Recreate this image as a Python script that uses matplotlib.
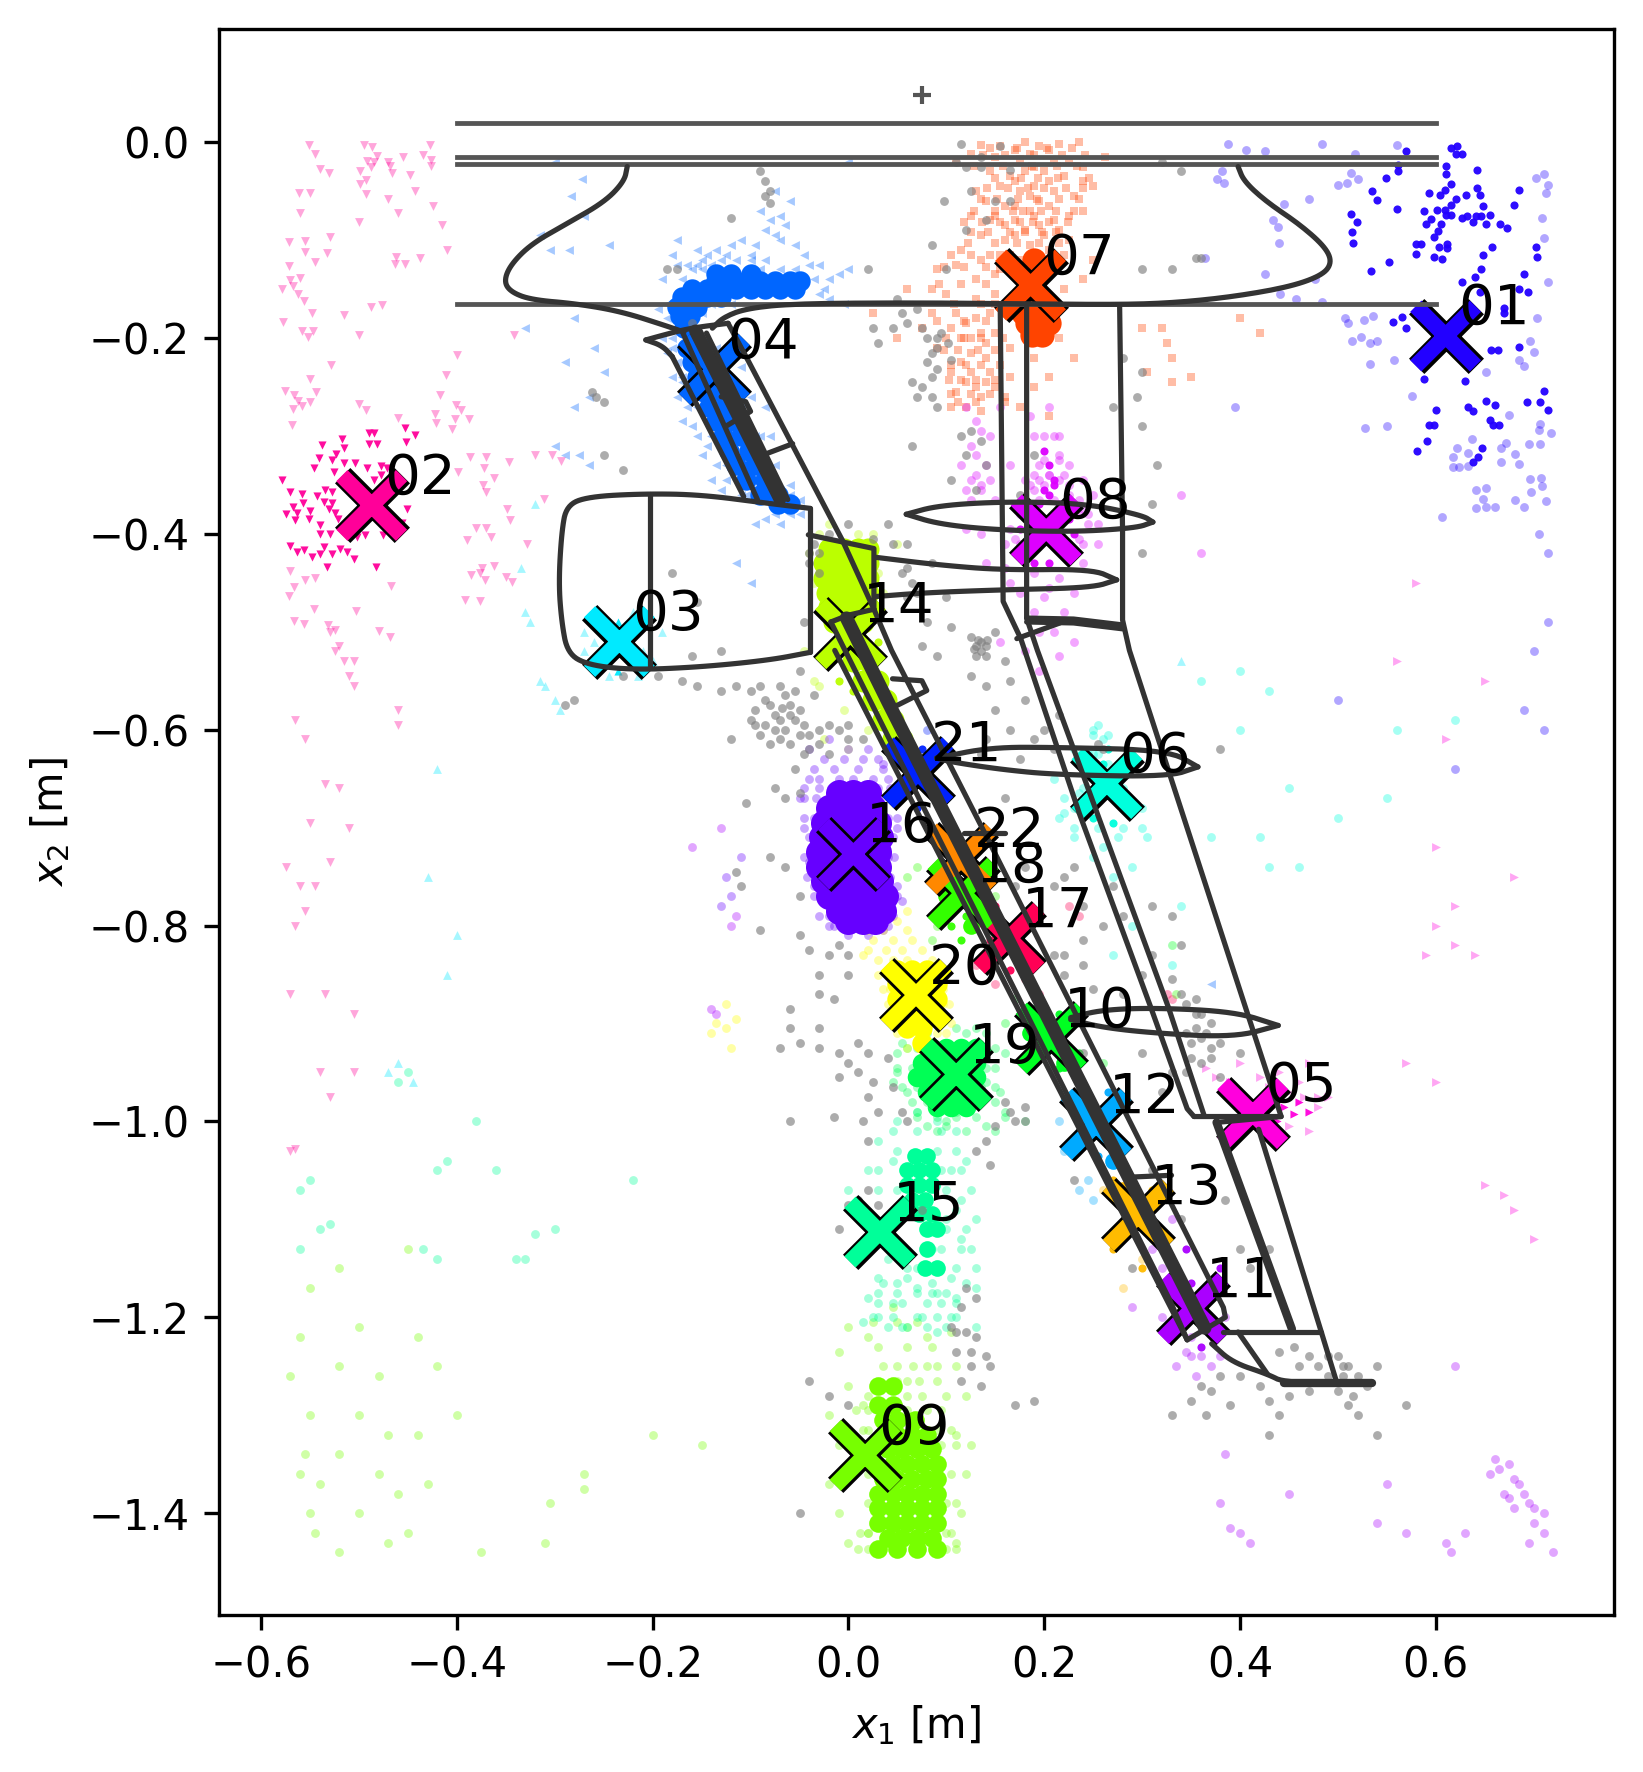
import matplotlib
matplotlib.use("Agg")
import matplotlib.pyplot as plt

labels = ["01","02","03","04","05","06","07","08","09","10","11","12","13","14","15","16","17","18","19","20","21","22"]
center_x = [0.610,-0.487,-0.234,-0.137,0.413,0.264,0.186,0.202,0.017,0.207,0.352,0.253,0.296,0.002,0.032,0.005,0.164,0.117,0.110,0.069,0.071,0.115]
center_y = [-0.198,-0.371,-0.510,-0.232,-0.992,-0.655,-0.146,-0.396,-1.341,-0.915,-1.191,-1.003,-1.096,-0.502,-1.113,-0.727,-0.813,-0.767,-0.952,-0.871,-0.644,-0.732]
colors = ["#2200ff","#ff0099","#00eaff","#0066ff","#ff00dd","#00ffdd","#ff4400","#dd00ff","#77ff00","#00ff22","#aa00ff","#00aaff","#ffbb00","#bbff00","#00ff99","#6600ff","#ff0055","#33ff00","#00ff55","#ffff00","#0022ff","#ff8800"]
shapes = ["o","v","^","<",">","o","s","o","o","o","o","o","o","o","o","o","o","o","o","o","o","o"]

solid = {
"01":[(0.622,-0.004),(0.615,-0.006),(0.621,-0.012),(0.627,-0.012),(0.570,-0.009),(0.610,-0.024),(0.610,-0.033),(0.561,-0.023),(0.561,-0.030),(0.549,-0.037),(0.642,-0.028),(0.615,-0.043),(0.609,-0.049),(0.685,-0.049),(0.642,-0.047),(0.645,-0.054),(0.593,-0.052),(0.604,-0.054),(0.631,-0.054),(0.621,-0.058),(0.615,-0.064),(0.535,-0.050),(0.540,-0.059),(0.560,-0.068),(0.648,-0.065),(0.680,-0.064),(0.588,-0.070),(0.601,-0.069),(0.609,-0.069),(0.610,-0.074),(0.615,-0.074),(0.627,-0.078),(0.632,-0.075),(0.641,-0.075),(0.646,-0.075),(0.655,-0.074),(0.638,-0.082),(0.651,-0.084),(0.666,-0.084),(0.673,-0.088),(0.590,-0.084),(0.595,-0.079),(0.605,-0.084),(0.602,-0.091),(0.598,-0.097),(0.513,-0.073),(0.519,-0.082),(0.514,-0.092),(0.515,-0.103),(0.580,-0.104),(0.585,-0.104),(0.580,-0.114),(0.603,-0.107),(0.611,-0.104),(0.611,-0.108),(0.598,-0.117),(0.606,-0.119),(0.648,-0.115),(0.657,-0.107),(0.702,-0.107),(0.703,-0.117),(0.552,-0.122),(0.534,-0.132),(0.646,-0.130),(0.640,-0.138),(0.627,-0.143),(0.690,-0.135),(0.685,-0.150),(0.694,-0.153),(0.645,-0.153),(0.670,-0.169),(0.670,-0.174),(0.565,-0.179),(0.556,-0.184),(0.570,-0.190),(0.656,-0.212),(0.663,-0.212),(0.685,-0.209),(0.588,-0.242),(0.630,-0.244),(0.710,-0.254),(0.651,-0.264),(0.660,-0.268),(0.693,-0.265),(0.706,-0.265),(0.715,-0.274),(0.633,-0.270),(0.638,-0.275),(0.600,-0.274),(0.655,-0.284),(0.658,-0.289),(0.665,-0.289),(0.598,-0.289),(0.593,-0.289),(0.591,-0.305),(0.581,-0.315),(0.647,-0.312),(0.643,-0.322),(0.638,-0.327)],
"02":[(-0.579,-0.345),(-0.570,-0.357),(-0.558,-0.359),(-0.546,-0.333),(-0.541,-0.323),(-0.538,-0.309),(-0.517,-0.303),(-0.515,-0.312),(-0.523,-0.318),(-0.528,-0.325),(-0.515,-0.328),(-0.504,-0.328),(-0.492,-0.333),(-0.490,-0.297),(-0.485,-0.297),(-0.490,-0.308),(-0.482,-0.308),(-0.478,-0.331),(-0.471,-0.333),(-0.526,-0.337),(-0.485,-0.345),(-0.543,-0.361),(-0.536,-0.367),(-0.528,-0.357),(-0.557,-0.369),(-0.528,-0.369),(-0.567,-0.373),(-0.575,-0.380),(-0.563,-0.379),(-0.550,-0.377),(-0.551,-0.385),(-0.565,-0.386),(-0.524,-0.379),(-0.521,-0.385),(-0.540,-0.391),(-0.540,-0.400),(-0.530,-0.400),(-0.502,-0.403),(-0.494,-0.401),(-0.475,-0.401),(-0.570,-0.412),(-0.563,-0.419),(-0.556,-0.417),(-0.548,-0.424),(-0.540,-0.421),(-0.536,-0.413),(-0.528,-0.421),(-0.519,-0.415),(-0.512,-0.419),(-0.505,-0.426),(-0.533,-0.434),(-0.483,-0.434),(-0.451,-0.375),(-0.456,-0.389),(-0.453,-0.292),(-0.443,-0.299),(-0.452,-0.306),(-0.535,-0.355),(-0.531,-0.375),(-0.478,-0.340)],
"05":[(0.445,-0.985),(0.455,-0.992),(0.46,-0.98),(0.47,-0.99),(0.438,-1.0)],
"08":[(0.205,-0.33),(0.21,-0.345),(0.195,-0.37),(0.205,-0.36),(0.215,-0.37),(0.19,-0.385),(0.225,-0.385),(0.18,-0.41),(0.225,-0.41),(0.205,-0.43),(0.19,-0.43),(0.20,-0.315),(0.21,-0.35),(0.20,-0.355),(0.23,-0.40),(0.175,-0.395)],
"06":[(0.26,-0.635),(0.265,-0.62),(0.255,-0.67),(0.285,-0.68),(0.25,-0.69),(0.27,-0.695)],
"11":[(0.345,-1.13),(0.335,-1.15),(0.37,-1.17),(0.33,-1.18),(0.38,-1.15),(0.34,-1.21),(0.36,-1.23),(0.33,-1.21),(0.35,-1.165),(0.378,-1.21)],
"14":[(-0.02,-0.44),(-0.005,-0.43),(0.01,-0.45),(-0.02,-0.47),(0.0,-0.47),(0.015,-0.48),(-0.015,-0.51),(0.0,-0.53),(0.03,-0.51),(-0.01,-0.55),(0.005,-0.56),(0.02,-0.56)],
"18":[(0.085,-0.755),(0.10,-0.78),(0.105,-0.80),(0.12,-0.79),(0.135,-0.76),(0.115,-0.815)],
"21":[(0.06,-0.605),(0.075,-0.62),(0.045,-0.63),(0.07,-0.68),(0.055,-0.655),(0.09,-0.665)],
"22":[(0.10,-0.71),(0.13,-0.72),(0.09,-0.75),(0.14,-0.745),(0.115,-0.76)],
"17":[(0.15,-0.78),(0.18,-0.79),(0.145,-0.815),(0.19,-0.835),(0.165,-0.845)],
"10":[(0.19,-0.885),(0.215,-0.89),(0.19,-0.94),(0.235,-0.93),(0.215,-0.945)],
"12":[(0.235,-0.97),(0.265,-0.97),(0.23,-1.02),(0.275,-1.02),(0.255,-1.035)],
"13":[(0.27,-1.06),(0.31,-1.07),(0.27,-1.13),(0.325,-1.12),(0.30,-1.15)],
"03":[(-0.25,-0.50),(-0.235,-0.49),(-0.22,-0.50),(-0.245,-0.525),(-0.225,-0.525),(-0.235,-0.54)],
}

faint = {
"01":[(0.388,-0.002),(0.406,-0.008),(0.425,-0.009),(0.484,-0.002),(0.517,-0.012),(0.560,-0.003),(0.513,-0.032),(0.521,-0.038),(0.500,-0.044),(0.509,-0.042),(0.384,-0.042),(0.376,-0.038),(0.382,-0.030),(0.445,-0.063),(0.470,-0.058),(0.434,-0.080),(0.439,-0.087),(0.440,-0.103),(0.364,-0.118),(0.425,-0.135),(0.477,-0.140),(0.441,-0.155),(0.457,-0.160),(0.484,-0.163),(0.710,-0.033),(0.702,-0.037),(0.715,-0.044),(0.713,-0.052),(0.708,-0.077),(0.710,-0.098),(0.715,-0.143),(0.703,-0.180),(0.696,-0.203),(0.700,-0.214),(0.685,-0.222),(0.690,-0.229),(0.651,-0.235),(0.507,-0.180),(0.510,-0.185),(0.527,-0.182),(0.536,-0.178),(0.514,-0.203),(0.524,-0.199),(0.533,-0.205),(0.540,-0.203),(0.557,-0.222),(0.533,-0.227),(0.576,-0.259),(0.395,-0.270),(0.528,-0.292),(0.675,-0.279),(0.706,-0.288),(0.718,-0.297),(0.705,-0.294),(0.706,-0.308),(0.695,-0.308),(0.672,-0.307),(0.667,-0.312),(0.637,-0.303),(0.622,-0.312),(0.633,-0.317),(0.618,-0.322),(0.618,-0.332),(0.624,-0.332),(0.633,-0.331),(0.681,-0.318),(0.685,-0.329),(0.667,-0.327),(0.696,-0.344),(0.707,-0.343),(0.708,-0.351),(0.697,-0.357),(0.641,-0.355),(0.651,-0.353),(0.648,-0.364),(0.681,-0.365),(0.713,-0.366),(0.641,-0.374),(0.651,-0.373),(0.660,-0.373),(0.690,-0.373),(0.606,-0.383),(0.705,-0.40),(0.715,-0.42),(0.70,-0.52),(0.715,-0.49),(0.71,-0.60),(0.69,-0.58),(0.55,-0.29),(0.50,-0.57),(0.62,-0.64)],
"02":[(-0.551,-0.003),(-0.545,-0.012),(-0.540,-0.027),(-0.531,-0.032),(-0.495,-0.003),(-0.487,-0.005),(-0.482,-0.014),(-0.492,-0.019),(-0.485,-0.020),(-0.488,-0.025),(-0.470,-0.020),(-0.466,-0.032),(-0.468,-0.024),(-0.455,-0.015),(-0.435,-0.013),(-0.427,-0.003),(-0.426,-0.018),(-0.426,-0.024),(-0.499,-0.030),(-0.493,-0.039),(-0.499,-0.043),(-0.493,-0.053),(-0.470,-0.058),(-0.448,-0.034),(-0.443,-0.050),(-0.424,-0.065),(-0.460,-0.072),(-0.415,-0.085),(-0.561,-0.052),(-0.550,-0.052),(-0.560,-0.072),(-0.500,-0.082),(-0.572,-0.102),(-0.555,-0.101),(-0.555,-0.112),(-0.530,-0.097),(-0.533,-0.113),(-0.545,-0.122),(-0.572,-0.126),(-0.410,-0.110),(-0.438,-0.118),(-0.462,-0.117),(-0.463,-0.124),(-0.453,-0.124),(-0.570,-0.141),(-0.560,-0.139),(-0.567,-0.147),(-0.579,-0.150),(-0.562,-0.155),(-0.556,-0.162),(-0.548,-0.174),(-0.578,-0.184),(-0.558,-0.193),(-0.552,-0.199),(-0.547,-0.193),(-0.515,-0.177),(-0.500,-0.197),(-0.488,-0.168),(-0.476,-0.166),(-0.342,-0.197),(-0.400,-0.217),(-0.529,-0.228),(-0.411,-0.238),(-0.550,-0.242),(-0.576,-0.254),(-0.566,-0.258),(-0.562,-0.264),(-0.544,-0.255),(-0.550,-0.265),(-0.558,-0.269),(-0.567,-0.273),(-0.568,-0.289),(-0.500,-0.267),(-0.493,-0.274),(-0.460,-0.282),(-0.417,-0.258),(-0.422,-0.278),(-0.421,-0.287),(-0.401,-0.268),(-0.396,-0.274),(-0.402,-0.283),(-0.388,-0.283),(-0.405,-0.293),(-0.387,-0.322),(-0.370,-0.322),(-0.372,-0.333),(-0.399,-0.337),(-0.347,-0.327),(-0.362,-0.343),(-0.373,-0.350),(-0.370,-0.357),(-0.320,-0.320),(-0.303,-0.320),(-0.294,-0.326),(-0.311,-0.364),(-0.349,-0.375),(-0.346,-0.386),(-0.380,-0.394),(-0.370,-0.394),(-0.365,-0.403),(-0.390,-0.406),(-0.328,-0.410),(-0.374,-0.435),(-0.386,-0.442),(-0.376,-0.440),(-0.362,-0.433),(-0.350,-0.444),(-0.344,-0.449),(-0.371,-0.447),(-0.392,-0.468),(-0.376,-0.469),(-0.467,-0.453),(-0.572,-0.463),(-0.566,-0.454),(-0.555,-0.447),(-0.545,-0.445),(-0.570,-0.438),(-0.546,-0.477),(-0.503,-0.479),(-0.566,-0.489),(-0.556,-0.492),(-0.532,-0.493),(-0.524,-0.498),(-0.480,-0.499),(-0.468,-0.505),(-0.53,-0.50),(-0.52,-0.515),(-0.515,-0.53),(-0.525,-0.52),(-0.505,-0.53),(-0.51,-0.545),(-0.505,-0.555),(-0.565,-0.59),(-0.555,-0.61),(-0.46,-0.58),(-0.46,-0.595),(-0.535,-0.655),(-0.52,-0.66),(-0.55,-0.695),(-0.51,-0.70),(-0.53,-0.735),(-0.575,-0.74),(-0.56,-0.76),(-0.545,-0.76),(-0.555,-0.785),(-0.565,-0.80),(-0.57,-0.87),(-0.535,-0.87),(-0.505,-0.89),(-0.54,-0.95),(-0.53,-0.975),(-0.505,-0.95),(-0.57,-1.03),(-0.565,-1.028)],
"03":[(-0.33,-0.48),(-0.325,-0.49),(-0.315,-0.55),(-0.30,-0.57),(-0.295,-0.58),(-0.27,-0.50),(-0.255,-0.53),(-0.245,-0.545),(-0.22,-0.48),(-0.21,-0.52),(-0.19,-0.50),(-0.42,-0.64),(-0.43,-0.75),(-0.40,-0.81),(-0.41,-0.85),(-0.46,-0.94),(-0.47,-0.95),(-0.445,-0.96),(-0.335,-0.435),(-0.32,-0.37),(0.34,-0.53),(-0.27,-0.52),(-0.26,-0.51),(-0.26,-0.49),(-0.205,-0.49),(-0.20,-0.53),(-0.215,-0.545),(-0.31,-0.555)],
"04":[(-0.30,-0.02),(-0.272,-0.038),(-0.283,-0.055),(-0.27,-0.075),(-0.315,-0.095),(-0.305,-0.11),(-0.285,-0.11),(-0.245,-0.105),(-0.33,-0.19),(-0.28,-0.18),(-0.26,-0.21),(-0.29,-0.225),(-0.25,-0.235),(-0.265,-0.26),(-0.28,-0.27),(-0.30,-0.31),(-0.29,-0.32),(-0.275,-0.32),(-0.265,-0.33),(-0.06,-0.06),(-0.075,-0.05),(-0.09,-0.07),(-0.085,-0.09),(-0.095,-0.105),(-0.07,-0.10),(-0.055,-0.105),(-0.10,-0.115),(-0.125,-0.115),(-0.155,-0.11),(-0.165,-0.125),(-0.18,-0.115),(-0.19,-0.14),(-0.185,-0.165),(-0.195,-0.17),(-0.175,-0.10),(-0.145,-0.115),(-0.045,-0.115),(-0.03,-0.125),(-0.02,-0.14),(-0.01,-0.135),(0.0,-0.13),(-0.02,-0.16),(-0.005,-0.165),(-0.03,-0.155),(-0.19,-0.20),(-0.175,-0.225),(-0.18,-0.24),(-0.175,-0.26),(-0.17,-0.285),(-0.155,-0.30),(-0.15,-0.32),(-0.135,-0.33),(-0.13,-0.355),(-0.11,-0.36),(-0.115,-0.345),(-0.09,-0.30),(-0.075,-0.33),(-0.10,-0.26),(-0.11,-0.23),(-0.06,-0.35),(-0.05,-0.365),(-0.085,-0.385),(-0.07,-0.39),(-0.095,-0.39),(-0.06,-0.38),(-0.115,-0.43),(-0.10,-0.45),(0.37,-0.86),(0.0,-0.02),(-0.07,-0.075),(-0.08,-0.08),(-0.065,-0.085),(-0.075,-0.095),(-0.11,-0.10),(-0.12,-0.105),(-0.14,-0.125),(-0.135,-0.11),(-0.155,-0.125),(-0.17,-0.14),(-0.175,-0.125),(-0.035,-0.14),(-0.04,-0.125),(-0.025,-0.15),(-0.185,-0.18),(-0.18,-0.20),(-0.185,-0.215),(-0.17,-0.245),(-0.165,-0.27),(-0.16,-0.29),(-0.145,-0.31),(-0.14,-0.345),(-0.125,-0.345),(-0.085,-0.27),(-0.08,-0.30),(-0.07,-0.355)],
"05":[(0.56,-0.53),(0.58,-0.45),(0.61,-0.61),(0.65,-0.55),(0.62,-0.78),(0.60,-0.80),(0.59,-0.83),(0.62,-0.82),(0.64,-0.83),(0.60,-0.96),(0.57,-0.94),(0.47,-0.94),(0.46,-0.96),(0.44,-0.95),(0.42,-0.955),(0.48,-0.975),(0.49,-0.975),(0.48,-0.985),(0.47,-1.01),(0.45,-1.005),(0.40,-0.94),(0.65,-1.065),(0.67,-1.075),(0.68,-1.09),(0.70,-1.12),(0.68,-0.75),(0.60,-0.72),(0.43,-0.965),(0.45,-0.97),(0.465,-0.975),(0.44,-1.01),(0.375,-0.955),(0.365,-0.945),(0.39,-0.96)],
"06":[(0.23,-0.62),(0.24,-0.64),(0.21,-0.65),(0.22,-0.67),(0.215,-0.69),(0.23,-0.71),(0.255,-0.70),(0.30,-0.68),(0.305,-0.71),(0.26,-0.72),(0.27,-0.75),(0.29,-0.74),(0.36,-0.55),(0.40,-0.54),(0.43,-0.56),(0.40,-0.60),(0.45,-0.66),(0.42,-0.71),(0.46,-0.74),(0.50,-0.69),(0.55,-0.67),(0.62,-0.59),(0.56,-0.60),(0.34,-0.78),(0.29,-0.80),(0.27,-0.83),(0.37,-0.71),(0.43,-0.74),(0.33,-0.84),(0.25,-0.60),(0.255,-0.595),(0.26,-0.61),(0.25,-0.625),(0.265,-0.635),(0.24,-0.66),(0.23,-0.68),(0.28,-0.66),(0.275,-0.71),(0.25,-0.73)],
"07":[(0.135,-0.003),(0.155,-0.004),(0.18,0.0),(0.195,-0.004),(0.215,-0.002),(0.235,0.0),(0.125,-0.012),(0.15,-0.015),(0.175,-0.017),(0.21,-0.018),(0.225,-0.02),(0.24,-0.025),(0.11,-0.02),(0.145,-0.03),(0.165,-0.035),(0.18,-0.03),(0.20,-0.03),(0.22,-0.035),(0.24,-0.04),(0.262,-0.015),(0.155,-0.045),(0.175,-0.05),(0.19,-0.045),(0.21,-0.05),(0.23,-0.055),(0.25,-0.045),(0.13,-0.05),(0.14,-0.06),(0.16,-0.065),(0.185,-0.07),(0.205,-0.065),(0.225,-0.075),(0.125,-0.075),(0.145,-0.08),(0.17,-0.08),(0.195,-0.085),(0.215,-0.09),(0.24,-0.07),(0.135,-0.095),(0.16,-0.10),(0.185,-0.105),(0.205,-0.11),(0.115,-0.11),(0.135,-0.12),(0.155,-0.115),(0.225,-0.10),(0.25,-0.12),(0.09,-0.13),(0.11,-0.125),(0.13,-0.14),(0.15,-0.135),(0.10,-0.155),(0.085,-0.15),(0.13,-0.16),(0.15,-0.155),(0.24,-0.14),(0.22,-0.15),(0.20,-0.185),(0.085,-0.175),(0.11,-0.175),(0.13,-0.18),(0.145,-0.175),(0.15,-0.195),(0.125,-0.20),(0.105,-0.19),(0.075,-0.19),(0.09,-0.21),(0.125,-0.215),(0.14,-0.22),(0.165,-0.21),(0.165,-0.24),(0.145,-0.235),(0.13,-0.25),(0.105,-0.235),(0.11,-0.255),(0.12,-0.27),(0.135,-0.26),(0.16,-0.26),(0.19,-0.22),(0.215,-0.20),(0.23,-0.22),(0.19,-0.25),(0.205,-0.24),(0.175,-0.27),(0.205,-0.28),(0.33,-0.22),(0.325,-0.205),(0.32,-0.19),(0.30,-0.19),(0.305,-0.235),(0.33,-0.245),(0.40,-0.18),(0.42,-0.195),(0.35,-0.24),(0.05,-0.20),(0.06,-0.15),(0.025,-0.175),(0.17,-0.008),(0.185,-0.012),(0.205,-0.008),(0.19,-0.025),(0.205,-0.04),(0.17,-0.04),(0.185,-0.055),(0.195,-0.06),(0.17,-0.065),(0.15,-0.075),(0.16,-0.085),(0.18,-0.09),(0.20,-0.095),(0.17,-0.095),(0.19,-0.075),(0.21,-0.08),(0.175,-0.12),(0.155,-0.13),(0.22,-0.115),(0.115,-0.20),(0.12,-0.185),(0.135,-0.195),(0.115,-0.225),(0.125,-0.235),(0.14,-0.205),(0.12,-0.245),(0.14,-0.245),(0.15,-0.25),(0.135,-0.275),(0.105,-0.27)],
"08":[(0.12,-0.27),(0.13,-0.285),(0.125,-0.31),(0.135,-0.295),(0.115,-0.33),(0.13,-0.34),(0.12,-0.355),(0.145,-0.30),(0.155,-0.27),(0.185,-0.28),(0.19,-0.30),(0.205,-0.27),(0.215,-0.30),(0.225,-0.33),(0.195,-0.33),(0.18,-0.345),(0.165,-0.33),(0.24,-0.345),(0.25,-0.36),(0.255,-0.39),(0.17,-0.37),(0.15,-0.365),(0.12,-0.395),(0.135,-0.40),(0.165,-0.395),(0.255,-0.41),(0.24,-0.43),(0.16,-0.435),(0.14,-0.43),(0.175,-0.46),(0.205,-0.455),(0.23,-0.46),(0.21,-0.50),(0.195,-0.50),(0.18,-0.52),(0.155,-0.51),(0.215,-0.525),(0.195,-0.54),(0.23,-0.51),(0.165,-0.45),(0.22,-0.48),(0.34,-0.36),(0.36,-0.42),(0.13,-0.32),(0.14,-0.33),(0.125,-0.345),(0.145,-0.345),(0.135,-0.355),(0.215,-0.32),(0.205,-0.34),(0.195,-0.345),(0.215,-0.345),(0.19,-0.355),(0.225,-0.36),(0.18,-0.365),(0.24,-0.375),(0.245,-0.39),(0.175,-0.41),(0.16,-0.41),(0.24,-0.41),(0.19,-0.44),(0.215,-0.445),(0.20,-0.465),(0.19,-0.48)],
"09":[(0.0,-1.21),(-0.01,-1.235),(0.02,-1.22),(0.045,-1.19),(0.06,-1.21),(0.08,-1.22),(0.105,-1.215),(0.11,-1.25),(0.12,-1.28),(0.09,-1.25),(0.0,-1.27),(-0.02,-1.30),(-0.01,-1.33),(0.015,-1.29),(-0.02,-1.37),(-0.01,-1.40),(0.0,-1.43),(0.02,-1.42),(0.11,-1.43),(0.115,-1.40),(0.12,-1.36),(0.11,-1.32),(0.125,-1.33),(-0.56,-1.22),(-0.57,-1.26),(-0.55,-1.30),(-0.555,-1.34),(-0.56,-1.36),(-0.54,-1.37),(-0.55,-1.40),(-0.545,-1.42),(-0.52,-1.44),(-0.50,-1.40),(-0.52,-1.34),(-0.50,-1.30),(-0.52,-1.25),(-0.50,-1.21),(-0.48,-1.26),(-0.47,-1.32),(-0.46,-1.38),(-0.45,-1.42),(-0.43,-1.37),(-0.47,-1.43),(-0.48,-1.36),(-0.44,-1.32),(-0.42,-1.25),(-0.44,-1.22),(-0.40,-1.30),(-0.375,-1.44),(-0.31,-1.43),(-0.305,-1.39),(-0.27,-1.36),(-0.27,-1.375),(-0.15,-1.33),(-0.20,-1.32),(-0.55,-1.17),(-0.52,-1.15),(-0.45,-1.13)],
"10":[(0.17,-0.875),(0.18,-0.94),(0.16,-0.90),(0.33,-0.82),(0.26,-0.94)],
"11":[(0.37,-1.25),(0.355,-1.26),(0.335,-1.25),(0.345,-1.235),(0.33,-1.10),(0.31,-1.13),(0.32,-1.15),(0.29,-1.19),(0.68,-1.365),(0.665,-1.355),(0.67,-1.38),(0.685,-1.37),(0.695,-1.39),(0.68,-1.395),(0.70,-1.41),(0.695,-1.43),(0.71,-1.42),(0.72,-1.44),(0.655,-1.36),(0.63,-1.42),(0.61,-1.43),(0.615,-1.44),(0.55,-1.37),(0.54,-1.41),(0.57,-1.42),(0.40,-1.42),(0.385,-1.34),(0.38,-1.39),(0.45,-1.38),(0.62,-1.25),(-0.14,-0.885),(-0.135,-0.89),(-0.16,-0.72),(-0.13,-0.70),(-0.12,-0.80),(-0.115,-0.79),(0.675,-1.35),(0.66,-1.345),(0.69,-1.38),(0.675,-1.385),(0.70,-1.395),(0.71,-1.40),(0.39,-1.415),(0.41,-1.43)],
"12":[(0.215,-1.0),(0.22,-1.03),(0.235,-1.07),(0.25,-1.08),(0.245,-1.06)],
"13":[(0.26,-1.07),(0.28,-1.17),(0.30,-1.14)],
"14":[(-0.03,-0.40),(-0.035,-0.55),(-0.02,-0.39),(0.01,-0.41),(0.025,-0.40),(-0.025,-0.61),(0.0,-0.62),(-0.005,-0.58),(0.02,-0.60),(0.03,-0.545),(0.05,-0.41),(-0.04,-0.42),(-0.045,-0.52),(0.03,-0.585),(-0.03,-0.555),(-0.03,-0.43),(-0.035,-0.45),(-0.03,-0.48),(0.03,-0.44),(0.035,-0.46),(0.01,-0.40),(-0.02,-0.41)],
"15":[(0.03,-1.02),(0.05,-1.0),(0.07,-0.99),(0.09,-1.0),(0.11,-1.01),(0.02,-1.05),(0.045,-1.04),(0.105,-1.05),(0.12,-1.04),(0.0,-1.07),(0.115,-1.08),(0.125,-1.07),(0.13,-1.10),(0.10,-1.10),(0.115,-1.12),(0.085,-1.13),(0.125,-1.13),(0.13,-1.15),(0.105,-1.16),(0.06,-1.16),(0.04,-1.14),(0.03,-1.16),(0.02,-1.18),(0.045,-1.185),(0.07,-1.17),(0.09,-1.175),(0.11,-1.18),(0.13,-1.17),(0.03,-1.20),(0.055,-1.21),(0.075,-1.20),(0.09,-1.215),(0.11,-1.20),(0.015,-1.205),(0.13,-1.21),(-0.55,-1.06),(-0.56,-1.07),(-0.56,-1.13),(-0.54,-1.11),(-0.53,-1.105),(-0.435,-1.13),(-0.42,-1.14),(-0.42,-1.05),(-0.41,-1.04),(-0.36,-1.05),(-0.34,-1.14),(-0.33,-1.14),(-0.32,-1.115),(-0.30,-1.11),(-0.22,-1.06),(-0.45,-0.95),(-0.46,-0.96),(-0.38,-1.0)],
"16":[(-0.04,-0.62),(-0.02,-0.61),(0.0,-0.62),(0.02,-0.62),(0.035,-0.635),(-0.05,-0.67),(-0.045,-0.70),(-0.04,-0.735),(-0.035,-0.76),(-0.02,-0.80),(0.0,-0.81),(0.02,-0.81),(0.04,-0.79),(0.05,-0.76),(0.045,-0.67),(0.05,-0.70),(-0.12,-0.77),(-0.13,-0.78),(-0.125,-0.75),(-0.11,-0.73),(0.035,-0.805),(0.055,-0.775)],
"17":[(0.13,-0.84),(0.15,-0.86),(0.18,-0.855),(0.195,-0.87),(0.235,-0.79),(0.33,-0.875),(0.325,-0.87),(0.225,-0.78)],
"18":[(0.07,-0.74),(0.06,-0.75),(0.09,-0.80),(0.085,-0.815),(0.335,-0.87),(0.15,-0.77)],
"19":[(0.055,-0.92),(0.07,-0.905),(0.09,-0.90),(0.11,-0.905),(0.13,-0.905),(0.05,-0.95),(0.06,-0.97),(0.07,-0.99),(0.09,-1.01),(0.11,-0.99),(0.13,-0.98),(0.14,-0.96),(0.155,-0.97),(0.16,-0.99),(0.18,-1.0),(0.10,-1.0),(0.12,-1.01),(0.15,-1.01),(0.05,-0.93),(0.045,-0.96),(0.14,-0.93),(0.16,-0.93)],
"20":[(0.02,-0.79),(0.04,-0.79),(0.06,-0.785),(0.015,-0.83),(0.09,-0.85),(0.105,-0.90),(-0.135,-0.90),(-0.14,-0.91),(-0.125,-0.905),(-0.115,-0.895),(-0.12,-0.925),(-0.125,-0.88)],
"21":[(0.04,-0.60),(0.08,-0.60)],
"22":[(0.10,-0.72),(0.085,-0.70)],
}

faint_rows = {
"04":[(-0.12,[-0.15,-0.13,-0.115,-0.10,-0.085]),(-0.13,[-0.16,-0.15,-0.09,-0.07,-0.055]),(-0.165,[-0.185,-0.14,-0.12]),(-0.175,[-0.18,-0.15]),(-0.21,[-0.18,-0.135]),(-0.24,[-0.17,-0.125]),(-0.27,[-0.155,-0.11]),(-0.30,[-0.14,-0.095]),(-0.33,[-0.125,-0.085]),(-0.36,[-0.105,-0.06]),(-0.38,[-0.075,-0.05])],
"06":[(-0.605,[0.25,0.265]),(-0.625,[0.245,0.255]),(-0.645,[0.25,0.27]),(-0.665,[0.235,0.25,0.28]),(-0.685,[0.22,0.24,0.29]),(-0.70,[0.23,0.28,0.3])],
"07":[(-0.006,[0.145,0.172,0.203,0.228]),(-0.013,[0.137,0.16,0.19,0.218,0.242]),(-0.024,[0.128,0.158,0.187,0.213,0.233]),(-0.037,[0.15,0.176,0.194,0.214,0.246]),(-0.047,[0.142,0.163,0.183,0.2,0.222,0.24]),(-0.058,[0.135,0.152,0.173,0.193,0.215,0.236]),(-0.07,[0.128,0.15,0.168,0.178,0.197,0.212,0.23]),(-0.082,[0.118,0.136,0.155,0.175,0.188,0.205,0.224]),(-0.092,[0.125,0.143,0.165,0.18,0.198,0.212]),(-0.103,[0.122,0.15,0.172,0.195,0.215]),(-0.115,[0.105,0.125,0.145,0.165]),(-0.128,[0.098,0.118,0.14,0.163]),(-0.145,[0.092,0.115,0.14]),(-0.165,[0.108,0.135,0.15]),(-0.183,[0.09,0.118,0.14]),(-0.2,[0.1,0.118,0.135,0.158]),(-0.212,[0.098,0.112,0.132,0.15]),(-0.228,[0.105,0.12,0.135,0.155]),(-0.243,[0.103,0.115,0.13,0.15]),(-0.257,[0.105,0.125,0.145]),(-0.265,[0.112,0.13,0.16])],
"08":[(-0.30,[0.2,0.21]),(-0.325,[0.2,0.215]),(-0.34,[0.19,0.205,0.22]),(-0.35,[0.135,0.185,0.2,0.225]),(-0.365,[0.125,0.195,0.21,0.235]),(-0.38,[0.175,0.185,0.235,0.245]),(-0.405,[0.17,0.185,0.235]),(-0.42,[0.175,0.23])],
"09":[(-1.205,[0.025,0.05,0.07]),(-1.23,[0.03,0.06,0.085]),(-1.25,[0.035,0.05,0.066,0.08]),(-1.265,[0.05,0.06,0.072,0.09]),(-1.28,[0.02,0.06,0.075,0.1]),(-1.295,[0.008,0.02,0.06,0.08,0.095]),(-1.315,[0.015,0.02,0.09,0.105]),(-1.33,[0.02,0.095,0.11]),(-1.36,[0.02,0.105]),(-1.39,[0.02,0.1,0.11]),(-1.42,[0.012,0.02,0.1,0.105]),(-1.437,[0.01,0.02,0.1,0.11])],
"11":[(-1.2,[0.32,0.34,0.385]),(-1.22,[0.33,0.35]),(-1.24,[0.35,0.36,0.38])],
"15":[(-1.01,[0.045,0.07,0.095]),(-1.03,[0.05,0.09,0.11]),(-1.05,[0.03,0.095,0.115]),(-1.07,[0.03,0.05,0.1]),(-1.09,[0.055,0.11]),(-1.11,[0.1,0.12]),(-1.13,[0.095,0.115]),(-1.15,[0.06,0.07,0.11]),(-1.165,[0.035,0.05,0.085,0.12]),(-1.175,[0.03,0.05,0.07,0.085,0.1]),(-1.185,[0.03,0.055,0.08,0.095,0.11]),(-1.2,[0.025,0.045,0.07,0.09,0.105]),(-1.21,[0.04,0.06,0.08,0.1])],
"16":[(-0.63,[-0.025,-0.005,0.015,0.03]),(-0.64,[-0.035,-0.015,0.01,0.035]),(-0.65,[-0.04,-0.03,-0.01,0.005,0.025,0.04]),(-0.66,[-0.045,-0.03,-0.018,0.03,0.042]),(-0.67,[-0.045,-0.033,0.03,0.042]),(-0.69,[-0.045,-0.035,0.04,0.05]),(-0.71,[-0.04,0.045]),(-0.73,[-0.045,0.04,0.047]),(-0.75,[-0.042,0.042]),(-0.77,[-0.035,0.05]),(-0.79,[-0.03,-0.02,0.045]),(-0.80,[-0.015,0.005,0.04])],
"19":[(-0.91,[0.06,0.08,0.12,0.14]),(-0.925,[0.06,0.07,0.14,0.15]),(-0.945,[0.05,0.065,0.14,0.15]),(-0.965,[0.055,0.07,0.135,0.15]),(-0.98,[0.065,0.08,0.135,0.15]),(-0.995,[0.07,0.09,0.11,0.13,0.16]),(-1.005,[0.08,0.1,0.14])],
"20":[(-0.795,[0.025,0.05]),(-0.805,[0.02,0.035,0.06]),(-0.815,[0.025,0.045,0.065]),(-0.825,[0.02,0.038,0.055,0.075]),(-0.835,[0.03,0.045,0.06,0.085]),(-0.85,[0.03,0.04,0.09]),(-0.865,[0.035,0.042,0.097]),(-0.88,[0.04,0.097,0.103]),(-0.895,[0.045,0.097]),(-0.91,[0.05,0.09,0.1]),(-0.925,[0.06,0.085])],
}

blob_rows = {
"04":[(-0.142,[-0.135,-0.12,-0.105,-0.09,-0.075,-0.06,-0.05]),(-0.135,[-0.135,-0.12,-0.10]),(-0.15,[-0.16,-0.145,-0.13,-0.115,-0.10,-0.085,-0.07,-0.055]),(-0.158,[-0.17,-0.158,-0.145,-0.13]),(-0.168,[-0.175,-0.165,-0.155]),(-0.178,[-0.172,-0.162]),(-0.19,[-0.168]),(-0.21,[-0.165,-0.15]),(-0.225,[-0.16,-0.145]),(-0.24,[-0.155,-0.14]),(-0.255,[-0.148,-0.13]),(-0.27,[-0.142,-0.125]),(-0.285,[-0.135,-0.118]),(-0.30,[-0.128,-0.11]),(-0.315,[-0.122,-0.102]),(-0.33,[-0.115,-0.095]),(-0.345,[-0.105,-0.085]),(-0.36,[-0.09,-0.072]),(-0.37,[-0.072,-0.06])],
"07":[(-0.165,[0.178,0.19,0.202]),(-0.175,[0.178,0.19,0.202]),(-0.185,[0.182,0.195,0.205]),(-0.197,[0.187,0.198]),(-0.12,[0.19])],
"09":[(-1.305,[0.035,0.05,0.068]),(-1.32,[0.035,0.05,0.065,0.08]),(-1.335,[0.04,0.055,0.07,0.085]),(-1.35,[0.045,0.06,0.075,0.09]),(-1.365,[0.035,0.05,0.065,0.08,0.09]),(-1.38,[0.03,0.045,0.06,0.075,0.09]),(-1.395,[0.03,0.045,0.06,0.075,0.09]),(-1.41,[0.03,0.045,0.06,0.075,0.09]),(-1.425,[0.04,0.055,0.07,0.085]),(-1.437,[0.03,0.05,0.07,0.09]),(-1.27,[0.03,0.045]),(-1.29,[0.03,0.045])],
"14":[(-0.415,[-0.02,-0.005,0.01,0.02]),(-0.43,[-0.025,-0.01,0.005,0.02]),(-0.445,[-0.025,-0.01,0.005,0.02]),(-0.46,[-0.022,-0.007,0.008,0.02]),(-0.475,[-0.02,-0.005,0.01,0.02]),(-0.49,[-0.015,0.0,0.015]),(-0.51,[-0.005,0.01]),(-0.53,[0.005,0.02]),(-0.55,[0.015,0.03]),(-0.57,[0.025,0.038]),(-0.59,[0.035,0.045]),(-0.61,[0.045,0.055])],
"15":[(-1.035,[0.068,0.08]),(-1.05,[0.06,0.072,0.085]),(-1.065,[0.06,0.072,0.085]),(-1.08,[0.065,0.078]),(-1.095,[0.072,0.085]),(-1.11,[0.08,0.09]),(-1.13,[0.08]),(-1.15,[0.078,0.09])],
"16":[(-0.665,[-0.01,0.005,0.02]),(-0.68,[-0.02,-0.005,0.01,0.025]),(-0.695,[-0.025,-0.01,0.005,0.02,0.03]),(-0.71,[-0.027,-0.01,0.005,0.02,0.032]),(-0.725,[-0.03,-0.015,0.0,0.015,0.03]),(-0.74,[-0.03,-0.015,0.0,0.015,0.03]),(-0.755,[-0.025,-0.01,0.005,0.02,0.032]),(-0.77,[-0.02,-0.005,0.01,0.025,0.037]),(-0.785,[-0.01,0.005,0.02,0.035]),(-0.795,[0.0,0.015,0.027])],
"19":[(-0.925,[0.085,0.10,0.115,0.13]),(-0.94,[0.075,0.09,0.105,0.12,0.13]),(-0.955,[0.07,0.085,0.10,0.115,0.13]),(-0.97,[0.08,0.095,0.11,0.125]),(-0.985,[0.09,0.105,0.12])],
"20":[(-0.845,[0.05,0.065,0.08]),(-0.86,[0.05,0.065,0.08,0.09]),(-0.875,[0.05,0.065,0.08,0.09]),(-0.89,[0.055,0.07,0.085]),(-0.905,[0.06,0.075]),(-0.92,[0.075])],
"21":[(-0.62,[0.055]),(-0.66,[0.085])],
"22":[(-0.715,[0.10]),(-0.75,[0.135])],
"18":[(-0.77,[0.10]),(-0.80,[0.125])],
"17":[(-0.795,[0.14]),(-0.835,[0.18])],
"10":[(-0.91,[0.185]),(-0.94,[0.22])],
"12":[(-0.99,[0.235]),(-1.04,[0.27])],
"13":[(-1.07,[0.28]),(-1.11,[0.31])],
"11":[(-1.175,[0.335]),(-1.21,[0.37])],
}
blob_size = {"04":24,"07":34,"09":20,"14":28,"15":16,"16":42,"19":22,"20":24,"21":16,"22":16,"18":16,"17":16,"10":16,"12":16,"13":16,"11":16}

grey_pts = [(0.115,-0.002),(0.155,-0.004),(0.135,-0.015),(0.11,-0.02),(0.12,-0.025),(0.135,-0.025),(0.165,-0.028),(-0.09,-0.03),(-0.085,-0.04),(-0.08,-0.05),(-0.085,-0.055),(-0.08,-0.062),(-0.12,-0.078),(-0.185,-0.13),(-0.175,-0.13),(-0.16,-0.185),(0.125,-0.05),(0.098,-0.06),(0.15,-0.06),(0.14,-0.08),(0.12,-0.09),(0.085,-0.105),(0.1,-0.13),(0.165,-0.06),(0.30,-0.13),(0.33,-0.13),(0.36,-0.118),(0.355,-0.118),(0.32,-0.02),(0.34,-0.03),(0.02,-0.13),(0.05,-0.16),(0.055,-0.175),(0.07,-0.17),(0.06,-0.185),(0.025,-0.19),(0.045,-0.19),(0.03,-0.205),(0.075,-0.19),(0.08,-0.2),(0.09,-0.21),(0.08,-0.225),(0.09,-0.232),(0.102,-0.205),(0.105,-0.222),(0.095,-0.195),(0.085,-0.24),(0.075,-0.25),(0.07,-0.26),(0.065,-0.245),(0.085,-0.26),(0.09,-0.27),(0.115,-0.3),(0.125,-0.295),(0.135,-0.305),(0.12,-0.32),(0.14,-0.33),(0.065,-0.31),(0.105,-0.345),(0.13,-0.355),(0.175,-0.36),(0.19,-0.32),(0.28,-0.22),(0.30,-0.235),(0.295,-0.26),(0.30,-0.29),(0.27,-0.27),(0.315,-0.33),(0.31,-0.37),(0.30,-0.42),(-0.262,-0.255),(-0.258,-0.26),(-0.25,-0.265),(-0.23,-0.335),(-0.25,-0.32),(-0.18,-0.44),(-0.155,-0.47),(-0.13,-0.52),(-0.09,-0.555),(-0.045,-0.49),(-0.04,-0.43),(-0.04,-0.42),(-0.035,-0.41),(-0.03,-0.42),(-0.03,-0.44),(-0.02,-0.40),(0.0,-0.39),(0.025,-0.405),(0.04,-0.39),(0.045,-0.41),(0.06,-0.41),(0.055,-0.44),(0.06,-0.435),(0.085,-0.43),(0.065,-0.45),(0.06,-0.465),(0.07,-0.46),(0.1,-0.465),(0.105,-0.495),(0.08,-0.49),(0.075,-0.515),(0.09,-0.525),(0.13,-0.515),(0.135,-0.51),(0.14,-0.515),(0.125,-0.505),(0.14,-0.525),(0.13,-0.525),(0.15,-0.5),(0.16,-0.53),(0.14,-0.555),(0.165,-0.55),(0.18,-0.57),(0.125,-0.545),(0.15,-0.58),(-0.25,-0.53),(-0.23,-0.545),(-0.195,-0.545),(-0.16,-0.525),(-0.17,-0.55),(-0.155,-0.555),(-0.13,-0.56),(-0.115,-0.555),(-0.10,-0.56),(-0.07,-0.555),(-0.05,-0.54),(-0.055,-0.56),(-0.035,-0.565),(-0.28,-0.57),(-0.29,-0.575),(-0.10,-0.59),(-0.095,-0.58),(-0.085,-0.57),(-0.08,-0.575),(-0.075,-0.585),(-0.065,-0.565),(-0.07,-0.59),(-0.06,-0.575),(-0.05,-0.58),(-0.045,-0.595),(-0.055,-0.59),(-0.065,-0.60),(-0.075,-0.60),(-0.085,-0.595),(-0.09,-0.605),(-0.08,-0.615),(-0.07,-0.61),(-0.06,-0.615),(-0.05,-0.605),(-0.04,-0.62),(-0.03,-0.60),(-0.02,-0.595),(-0.01,-0.60),(0.0,-0.595),(-0.03,-0.615),(-0.045,-0.625),(-0.02,-0.625),(0.0,-0.61),(0.015,-0.61),(-0.055,-0.64),(-0.075,-0.66),(-0.065,-0.67),(-0.05,-0.665),(-0.105,-0.675),(-0.12,-0.61),(-0.08,-0.73),(-0.065,-0.74),(-0.115,-0.745),(-0.11,-0.76),(-0.05,-0.77),(-0.09,-0.805),(-0.05,-0.81),(-0.04,-0.825),(-0.02,-0.83),(-0.01,-0.82),(0.0,-0.83),(-0.03,-0.85),(0.0,-0.85),(-0.03,-0.87),(-0.015,-0.875),(-0.06,-0.885),(-0.03,-0.905),(-0.06,-0.905),(-0.05,-0.92),(-0.07,-0.925),(-0.03,-0.925),(-0.01,-0.93),(0.0,-0.94),(0.01,-0.92),(0.02,-0.93),(0.01,-0.95),(0.025,-0.96),(-0.01,-0.955),(0.02,-0.975),(0.04,-0.935),(0.045,-0.965),(0.03,-0.99),(0.015,-1.0),(0.02,-1.02),(-0.015,-0.995),(-0.06,-1.0),(0.055,-0.99),(0.06,-1.0),(0.16,-0.98),(0.165,-0.99),(0.17,-1.0),(0.18,-0.985),(0.18,-1.0),(0.15,-1.005),(0.14,-1.02),(0.13,-1.03),(0.145,-1.045),(0.02,-1.07),(0.01,-1.08),(0.0,-1.085),(0.03,-1.085),(-0.01,-1.11),(0.13,-1.18),(0.12,-1.17),(0.115,-1.19),(0.11,-1.215),(0.12,-1.215),(0.13,-1.22),(0.105,-1.21),(0.135,-1.27),(0.125,-1.25),(0.145,-1.25),(0.14,-1.24),(-0.04,-1.265),(-0.02,-1.28),(0.0,-1.29),(0.17,-1.29),(0.19,-1.285),(-0.05,-1.40),(0.17,-0.76),(0.18,-0.74),(0.21,-0.76),(0.22,-0.75),(0.23,-0.74),(0.24,-0.78),(0.26,-0.80),(0.24,-0.815),(0.21,-0.83),(0.22,-0.83),(0.24,-0.84),(0.22,-0.85),(0.25,-0.865),(0.28,-0.87),(0.30,-0.85),(0.31,-0.83),(0.33,-0.855),(0.34,-0.87),(0.345,-0.88),(0.355,-0.875),(0.36,-0.89),(0.355,-0.905),(0.365,-0.91),(0.37,-0.90),(0.345,-0.91),(0.35,-0.92),(0.37,-0.925),(0.38,-0.92),(0.36,-0.94),(0.345,-0.95),(0.33,-0.95),(0.32,-0.97),(0.38,-0.955),(0.40,-0.93),(0.30,-0.93),(0.28,-0.79),(0.27,-0.76),(0.31,-0.78),(0.33,-0.79),(0.34,-0.82),(0.16,-0.67),(0.175,-0.63),(0.165,-0.60),(0.19,-0.61),(0.21,-0.62),(0.20,-0.60),(0.215,-0.585),(0.14,-0.61),(0.135,-0.625),(0.255,-0.615),(0.26,-0.62),(0.38,-0.62),(0.31,-1.05),(0.24,-0.93),(0.23,-1.06),(0.29,-1.15),(0.34,-1.10),(0.385,-1.08),(0.40,-1.13),(0.43,-1.13),(0.41,-1.15),(0.36,-1.27),(0.38,-1.26),(0.37,-1.275),(0.35,-1.285),(0.365,-1.30),(0.40,-1.26),(0.42,-1.27),(0.39,-1.29),(0.33,-1.30),(0.43,-1.285),(0.44,-1.235),(0.455,-1.23),(0.47,-1.24),(0.46,-1.25),(0.48,-1.25),(0.49,-1.24),(0.50,-1.24),(0.505,-1.25),(0.51,-1.25),(0.52,-1.26),(0.505,-1.26),(0.49,-1.26),(0.50,-1.275),(0.515,-1.28),(0.53,-1.27),(0.54,-1.25),(0.47,-1.275),(0.45,-1.28),(0.51,-1.29),(0.52,-1.30),(0.44,-1.30),(0.54,-1.32),(0.57,-1.29),(0.43,-1.32),(0.075,-1.09),(0.135,-0.52),(0.132,-0.508),(0.128,-0.518),(0.142,-0.508),(-0.06,-0.585),(-0.068,-0.578),(-0.04,-0.605),(-0.095,-0.595),(0.09,-0.20),(0.085,-0.215),(0.11,-1.235),(0.125,-1.235),(0.115,-1.265),(0.355,-0.89),(0.36,-0.915),(0.37,-0.935),(0.35,-0.935)]

h_levels = [0.02,-0.015,-0.022,-0.165]
h_start, h_end = -0.4, 0.6
plus_x, plus_y = [0.075],[0.048]

curved_outlines = [
[(-0.226,-0.025),(-0.229,-0.040),(-0.249,-0.061),(-0.289,-0.084),(-0.324,-0.104),(-0.345,-0.125),(-0.352,-0.142),(-0.345,-0.153),(-0.324,-0.161),(-0.278,-0.165),(-0.232,-0.173),(-0.185,-0.188),(-0.168,-0.194)],
[(0.398,-0.025),(0.404,-0.040),(0.427,-0.061),(0.461,-0.084),(0.487,-0.107),(0.494,-0.123),(0.484,-0.136),(0.450,-0.148),(0.392,-0.158),(0.334,-0.164),(0.277,-0.166),(0.173,-0.165),(0.057,-0.164),(-0.058,-0.165),(-0.105,-0.170),(-0.128,-0.179),(-0.139,-0.190)],
[(-0.039,-0.374),(-0.081,-0.369),(-0.151,-0.360),(-0.208,-0.359),(-0.266,-0.362),(-0.288,-0.371),(-0.293,-0.398),(-0.296,-0.450),(-0.293,-0.490),(-0.287,-0.522),(-0.266,-0.534),(-0.220,-0.539),(-0.151,-0.536),(-0.081,-0.529),(-0.039,-0.521)],
[(0.028,-0.424),(0.094,-0.432),(0.158,-0.437),(0.249,-0.436),(0.274,-0.447)],
[(0.274,-0.447),(0.249,-0.455),(0.162,-0.457),(0.080,-0.460),(0.028,-0.464)],
[(0.059,-0.380),(0.092,-0.371),(0.161,-0.367),(0.242,-0.369),(0.300,-0.381),(0.311,-0.388)],
[(0.311,-0.388),(0.294,-0.394),(0.230,-0.398),(0.150,-0.396),(0.092,-0.390),(0.059,-0.380)],
[(0.090,-0.629),(0.145,-0.618),(0.213,-0.618),(0.327,-0.621),(0.357,-0.638)],
[(0.357,-0.638),(0.327,-0.648),(0.213,-0.646),(0.159,-0.641),(0.105,-0.633),(0.090,-0.629)],
[(0.227,-0.894),(0.259,-0.886),(0.314,-0.884),(0.395,-0.888),(0.439,-0.902)],
[(0.439,-0.902),(0.395,-0.914),(0.314,-0.910),(0.259,-0.904),(0.227,-0.896)],
[(0.371,-1.227),(0.392,-1.246),(0.428,-1.258),(0.446,-1.267),(0.535,-1.267)],
[(-0.207,-0.202),(-0.189,-0.197),(-0.162,-0.190),(-0.123,-0.185)],
[(-0.207,-0.202),(-0.190,-0.208),(-0.180,-0.219)],
]
outlines_thin = [
[(-0.039,-0.374),(-0.039,-0.521)],
[(-0.203,-0.359),(-0.203,-0.535)],
[(-0.123,-0.185),(-0.102,-0.224),(-0.006,-0.407),(0.026,-0.477)],
[(-0.180,-0.219),(-0.107,-0.362)],
[(-0.170,-0.193),(-0.093,-0.365)],
[(-0.086,-0.319),(-0.057,-0.308)],
[(-0.041,-0.401),(0.026,-0.415),(0.026,-0.477)],
[(0.277,-0.167),(0.280,-0.398),(0.280,-0.488),(0.287,-0.519),(0.407,-0.888),(0.442,-0.995),(0.353,-0.995)],
[(0.155,-0.167),(0.158,-0.469),(0.176,-0.507),(0.236,-0.686),(0.309,-0.884),(0.346,-0.987),(0.353,-0.995)],
[(0.182,-0.167),(0.182,-0.486),(0.193,-0.519),(0.327,-0.884),(0.363,-0.993)],
[(0.182,-0.486),(0.230,-0.487),(0.280,-0.493)],
[(0.182,-0.490),(0.230,-0.491),(0.280,-0.497)],
[(0.172,-0.507),(0.216,-0.491)],
[(0.376,-1.001),(0.442,-0.995)],
[(0.419,-1.008),(0.483,-1.215),(0.498,-1.264)],
[(0.383,-1.215),(0.483,-1.215)],
[(0.398,-1.215),(0.428,-1.258)],
[(0.026,-0.477),(0.044,-0.519),(0.140,-0.707),(0.383,-1.190),(0.385,-1.200),(0.346,-1.223)],
[(-0.018,-0.490),(0.328,-1.182),(0.346,-1.223)],
[(-0.014,-0.519),(0.346,-1.223)],
[(-0.018,-0.490),(0.0,-0.483),(0.026,-0.477)],
[(0.118,-0.705),(0.16,-0.705)],
[(0.285,-1.057),(0.33,-1.055)],
[(0.045,-0.548),(0.075,-0.55),(0.08,-0.56),(0.05,-0.575)],
[(-0.13,-0.26),(-0.105,-0.265),(-0.10,-0.275),(-0.125,-0.29)],
[(-0.145,-0.195),(-0.062,-0.365)],
]
outlines_mid = [
[(0.376,-1.001),(0.453,-1.212)],
[(0.445,-1.267),(0.535,-1.267)],
]
outlines_thick = [
[(-0.156,-0.193),(-0.070,-0.364)],
[(-0.002,-0.486),(0.040,-0.571),(0.364,-1.211)],
]
line_dark = "#333333"

def corner_cut(seg, rounds=3):
    pts = list(seg)
    for _ in range(rounds):
        out = [pts[0]]
        for (a, b), (c, d) in zip(pts[:-1], pts[1:]):
            out.append((0.75*a+0.25*c, 0.75*b+0.25*d))
            out.append((0.25*a+0.75*c, 0.25*b+0.75*d))
        out.append(pts[-1])
        pts = out
    return pts

def expand(rows):
    return [(x, y) for y, xs in rows for x in xs]

fig = plt.figure(figsize=(1643/300,1772/300),dpi=300)
ax = fig.add_axes([219/1643,1-1615/1772,(1614-219)/1643,(1615-29)/1772])

for lab,col,shp in zip(labels,colors,shapes):
    pts = faint.get(lab,[]) + expand(faint_rows.get(lab,[]))
    if pts:
        ax.scatter(*zip(*pts),s=4.5,marker=shp,color=col,alpha=0.35,linewidths=0,zorder=2)
    pts = solid.get(lab,[])
    if pts:
        ax.scatter(*zip(*pts),s=3.8,marker=shp,color=col,alpha=0.95,linewidths=0,zorder=2.2)
    rows = blob_rows.get(lab,[])
    if rows:
        ax.scatter(*zip(*expand(rows)),s=blob_size[lab],marker="o",color=col,alpha=1,linewidths=0,zorder=2.1)
ax.scatter(*zip(*grey_pts),s=4.5,marker="o",color="#808080",alpha=0.65,linewidths=0,zorder=2.3)

ax.scatter(center_x,center_y,s=205,marker="x",c="black",linewidths=5.2,zorder=3)
ax.scatter(center_x,center_y,s=205,marker="x",c=colors,linewidths=3.8,zorder=3.1)

for y in h_levels:
    ax.plot([h_start,h_end],[y,y],color="#555555",lw=1.15,zorder=4)
ax.plot(plus_x,plus_y,marker="+",ms=4.5,mew=1.0,color="#555555",ls="none",zorder=4)
for seg in curved_outlines:
    ax.plot(*zip(*corner_cut(seg)),color=line_dark,lw=1.25,zorder=4,solid_capstyle="round")
for seg in outlines_thin:
    ax.plot(*zip(*seg),color=line_dark,lw=1.25,zorder=4,solid_capstyle="round")
for seg in outlines_mid:
    ax.plot(*zip(*seg),color=line_dark,lw=2.0,zorder=4,solid_capstyle="round")
for seg in outlines_thick:
    ax.plot(*zip(*seg),color=line_dark,lw=3.2,zorder=4,solid_capstyle="round")

for lab,x,y in zip(labels,center_x,center_y):
    ax.text(x+0.013,y+0.012,lab,fontsize=13.5,color="black",ha="left",va="baseline",zorder=5)

ax.set_xlim(-0.643,0.782)
ax.set_ylim(-1.504,0.1155)
ax.set_xticks([-0.6,-0.4,-0.2,0.0,0.2,0.4,0.6])
ax.set_yticks([0.0,-0.2,-0.4,-0.6,-0.8,-1.0,-1.2,-1.4])
ax.tick_params(labelsize=10)
ax.set_xlabel(r"$x_1$ [m]",fontsize=10)
ax.set_ylabel(r"$x_2$ [m]",fontsize=10)
fig.savefig("out.png",dpi=300)
